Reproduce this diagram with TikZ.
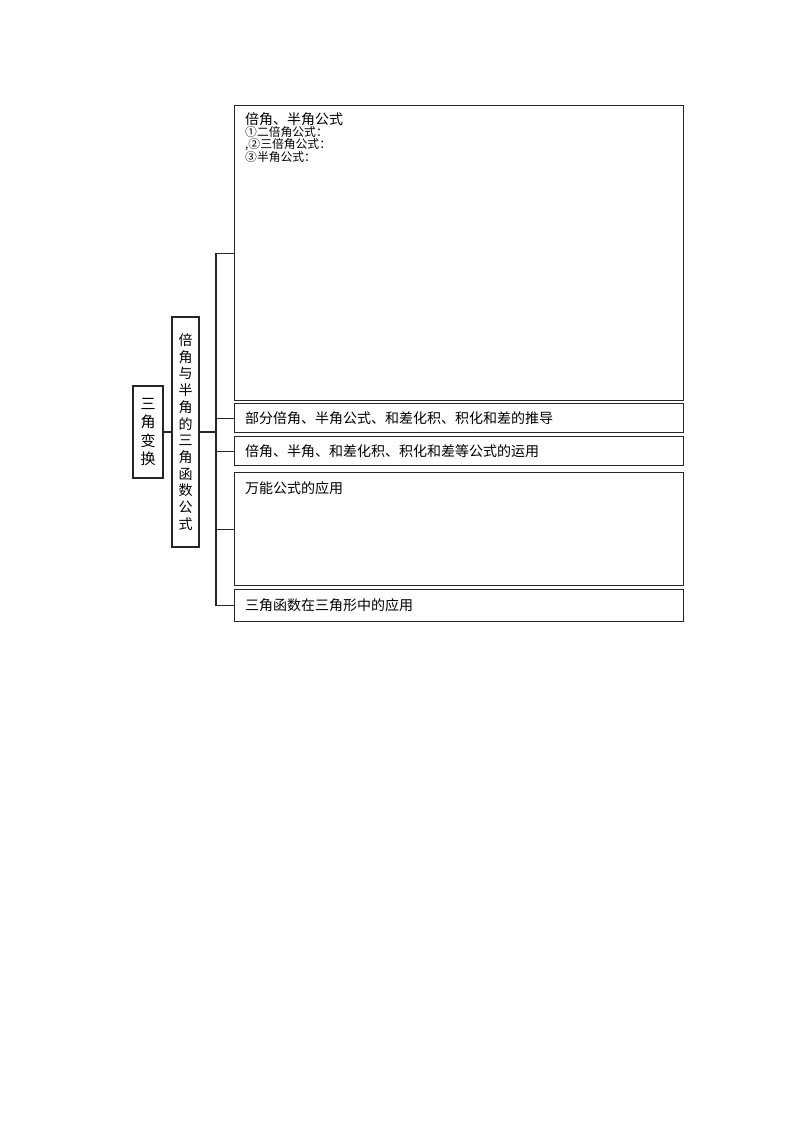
\documentclass[tikz,border=0pt]{standalone}
\usepackage{fontspec}
\setmainfont{Noto Sans CJK SC}
\begin{document}
\begin{tikzpicture}[x=1pt, y=-1pt,
        box/.style={draw=black!85, line width=1.3pt, inner sep=0pt, anchor=north west},
        vbox/.style={draw=black!85, line width=1.3pt, inner sep=0pt, align=center},
        txt/.style={inner sep=0pt, anchor=north west, align=left},
        link/.style={draw=black!85, line width=1.3pt}]
    \useasboundingbox (0, 0) rectangle (800, 1132);
    % left column
    \node[vbox, minimum width=30pt, minimum height=92pt, font=\fontsize{15}{18.5}\selectfont] (root) at (148, 432) {三\\角\\变\\换};
    \node[vbox, minimum width=27pt, minimum height=230pt, font=\fontsize{14}{16.7}\selectfont] (mid) at (185.5, 432) {倍\\角\\与\\半\\角\\的\\三\\角\\函\\数\\公\\式};
    % right column
    \node[box, minimum width=449pt, minimum height=295pt] (b1) at (234, 105) {};
    \node[box, minimum width=449pt, minimum height=29pt] (b2) at (234, 403) {};
    \node[box, minimum width=449pt, minimum height=29pt] (b3) at (234, 436) {};
    \node[box, minimum width=449pt, minimum height=113pt] (b4) at (234, 472) {};
    \node[box, minimum width=449pt, minimum height=32pt] (b5) at (234, 589) {};
    \node[txt, font=\fontsize{14}{14}\selectfont] (b1t) at ([xshift=11pt, yshift=-7pt]b1.north west) {倍角、半角公式};
    \node[txt, font=\fontsize{11.8}{11.8}\selectfont] (b1s) at ([yshift=-0.5pt]b1t.south west) {①二倍角公式：\\,②三倍角公式：\\③半角公式：};
    \node[anchor=west, inner sep=0pt, font=\fontsize{14}{14}\selectfont] (b2t) at ([xshift=11pt]b2.west) {部分倍角、半角公式、和差化积、积化和差的推导};
    \node[anchor=west, inner sep=0pt, font=\fontsize{14}{14}\selectfont] (b3t) at ([xshift=11pt]b3.west) {倍角、半角、和差化积、积化和差等公式的运用};
    \node[txt, font=\fontsize{14}{14}\selectfont] (b4t) at ([xshift=11pt, yshift=-9pt]b4.north west) {万能公式的应用};
    \node[anchor=west, inner sep=0pt, font=\fontsize{14}{14}\selectfont] (b5t) at ([xshift=11pt]b5.west) {三角函数在三角形中的应用};
    % connectors
    \coordinate (bus) at (216, 432);
    \draw[link] (root.east) -- (mid.west);
    \draw[link, line width=1.8pt] (mid.east) -- (bus);
    \draw[link] (bus |- b1.west) -- (bus |- b5.west);
    \foreach \n in {b1, b2, b3, b4, b5}
        \draw[link] (bus |- \n.west) -- (\n.west);
\end{tikzpicture}
\end{document}
